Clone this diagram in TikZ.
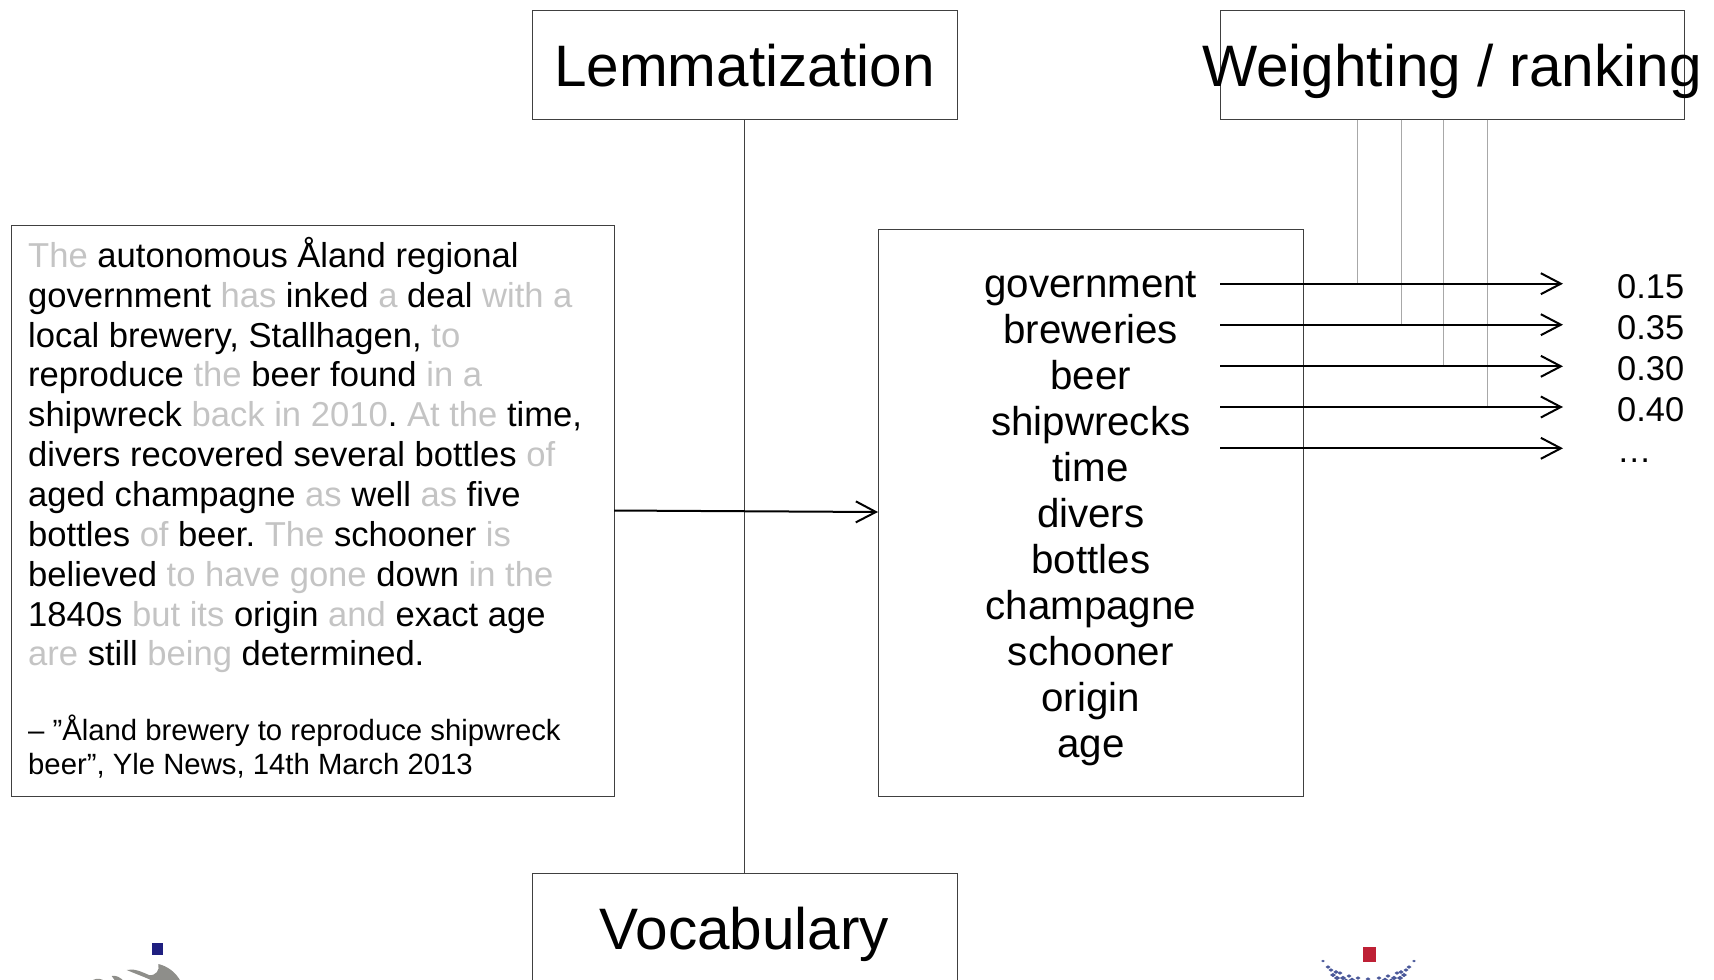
\documentclass[tikz,border=0pt]{standalone}
\usepackage{fontspec}
\setmainfont{Liberation Sans}
\usetikzlibrary{arrows.meta}
\definecolor{stopgray}{HTML}{C4C4C4}
\definecolor{boxline}{HTML}{404040}
\definecolor{tickgray}{HTML}{A8A8A8}
\definecolor{logonavy}{HTML}{1F1F80}
\definecolor{logored}{HTML}{BE2035}
\definecolor{logoblue}{HTML}{4A5899}
\definecolor{logogray}{HTML}{8E8E8A}
\newcommand\gw[1]{\textcolor{stopgray}{#1}}
\tikzset{
  x=1pt,y=-1pt,
  panel/.style={draw=boxline,line width=1pt,inner sep=0pt,anchor=north west},
  title/.style={font=\fontsize{58.5}{58}\selectfont,anchor=base,inner sep=0pt},
  bodyline/.style={font=\fontsize{34.6}{40}\selectfont,anchor=base west,inner sep=0pt},
  source/.style={font=\fontsize{29.3}{34}\selectfont,anchor=base west,inner sep=0pt},
  term/.style={font=\fontsize{40.3}{46}\selectfont,anchor=base,inner sep=0pt},
  score/.style={font=\fontsize{34.4}{36}\selectfont,anchor=base west,inner sep=0pt},
  flow/.style={line width=2pt,-{Straight Barb[length=20pt,width=21pt,line width=2pt]}},
  tick/.style={draw=tickgray,line width=1pt},
  link/.style={draw=boxline,line width=1pt}
}
\begin{document}
\frenchspacing
\begin{tikzpicture}
\useasboundingbox (0,0) rectangle (1714,980);
\clip (0,0) rectangle (1714,980);
% boxes
\node[panel,minimum width=425.5pt,minimum height=109pt] (lem) at (531.6,9.5) {};
\node[panel,minimum width=464pt,minimum height=109pt] (wt) at (1219.6,9.5) {};
\node[panel,minimum width=603pt,minimum height=570.5pt] (src) at (10.6,225) {};
\node[panel,minimum width=425pt,minimum height=567pt] (terms) at (877.6,228.6) {};
\node[panel,minimum width=425.5pt,minimum height=125pt] (voc) at (531.6,873) {};
% titles
\node[title] (lemt) at (744.4,86) {Lemmatization};
\node[title] (wtt) at (1452,86) {Weighting / ranking};
\node[title] (voct) at (744.4,949) {Vocabulary};
% connectors
\draw[link] (lem.south) -- (voc.north);
\coordinate (srcout) at (614,510.5);
\coordinate (termin) at (878,512);
\draw[flow] (srcout) -- (termin);
% source text
\node[bodyline] (b1) at (28,267) {\gw{The} autonomous Åland regional};
\node[bodyline] (b2) at (28,307) {government \gw{has} inked \gw{a} deal \gw{with a}};
\node[bodyline] (b3) at (28,347) {local brewery, Stallhagen, \gw{to}};
\node[bodyline] (b4) at (28,386.8) {reproduce \gw{the} beer found \gw{in a}};
\node[bodyline] (b5) at (28,426.7) {shipwreck \gw{back in 2010}. \gw{At the} time,};
\node[bodyline] (b6) at (28,466.6) {divers recovered several bottles \gw{of}};
\node[bodyline] (b7) at (28,506.5) {aged champagne \gw{as} well \gw{as} five};
\node[bodyline] (b8) at (28,546) {bottles \gw{of} beer. \gw{The} schooner \gw{is}};
\node[bodyline] (b9) at (28,586.3) {believed \gw{to have gone} down \gw{in the}};
\node[bodyline] (b10) at (28,626.2) {1840s \gw{but its} origin \gw{and} exact age};
\node[bodyline] (b11) at (28,665) {\gw{are} still \gw{being} determined.};
\node[source] (s1) at (28,740) {– ”Åland brewery to reproduce shipwreck};
\node[source] (s2) at (28,774) {beer”, Yle News, 14th March 2013};
% terms
\node[term] (t1) at (1090.8,297) {government};
\node[term] (t2) at (1090.8,343) {breweries};
\node[term] (t3) at (1090.8,389) {beer};
\node[term] (t4) at (1090.8,435) {shipwrecks};
\node[term] (t5) at (1090.8,481) {time};
\node[term] (t6) at (1090.8,527) {divers};
\node[term] (t7) at (1090.8,573) {bottles};
\node[term] (t8) at (1090.8,619) {champagne};
\node[term] (t9) at (1090.8,665) {schooner};
\node[term] (t10) at (1090.8,711) {origin};
\node[term] (t11) at (1090.8,757) {age};
% scores
\node[score] (w1) at (1617,298.5) {0.15};
\node[score] (w2) at (1617,339.5) {0.35};
\node[score] (w3) at (1617,380.5) {0.30};
\node[score] (w4) at (1617,421.5) {0.40};
\node[score] (w5) at (1617,462) {…};
% arrows
\foreach \n/\yy in {1/283.7,2/324.7,3/366.3,4/407,5/448.3}{
  \coordinate (as\n) at (1220,\yy);
  \coordinate (ae\n) at (1563,\yy);
}
\coordinate (v1) at (1357.3,283.7);
\coordinate (v2) at (1401.3,324.7);
\coordinate (v3) at (1443.3,366.3);
\coordinate (v4) at (1487.7,407);
\foreach \n in {1,2,3,4}{\draw[tick] (v\n |- wt.south) -- (v\n);}
\foreach \n in {1,2,3,4,5}{\draw[flow] (as\n) -- (ae\n);}
% logo left
\fill[logonavy] (152,943) rectangle (163,955);
\fill[logogray] (158.3,964) .. controls (167,966) and (176,972) .. (181,982) -- (155,982)
  .. controls (145,977) and (136,974) .. (126.7,970) .. controls (134,968) and (142,972) .. (149,975)
  .. controls (156,976) and (160,970) .. (158.3,964) -- cycle;
\fill[logogray] (111.7,976) .. controls (116,975) and (120,977) .. (125,982) -- (116,982) -- cycle;
\fill[logogray] (93,980) .. controls (97,978) and (101,978) .. (106,982) -- (92,982) -- cycle;
% logo right
\fill[logored] (1362.5,947) rectangle (1375.5,962);
\foreach \px/\py/\s in {1323/961/1.8,1328/967/2.5,1331/970/2.5,1336/972/2.7,1340/973/2.5,1333/975/3,1337/978/3.2,1343/978/3.2,1349/976/2.5,1352/980/3.4,1358/978/2.5,1414/961/1.8,1409/967/2.5,1406/970/2.5,1401/972/2.7,1397/973/2.5,1404/975/3,1400/978/3.2,1394/978/3.2,1388/976/2.5,1385/980/3.4,1379/978/2.5,1368/979/2.5,1346/981/3.4,1391/981/3.4}{
  \fill[logoblue] (\px-\s,\py) -- (\px,\py-\s*0.7) -- (\px+\s,\py) -- (\px,\py+\s*0.7) -- cycle;
}
\end{tikzpicture}
\end{document}
